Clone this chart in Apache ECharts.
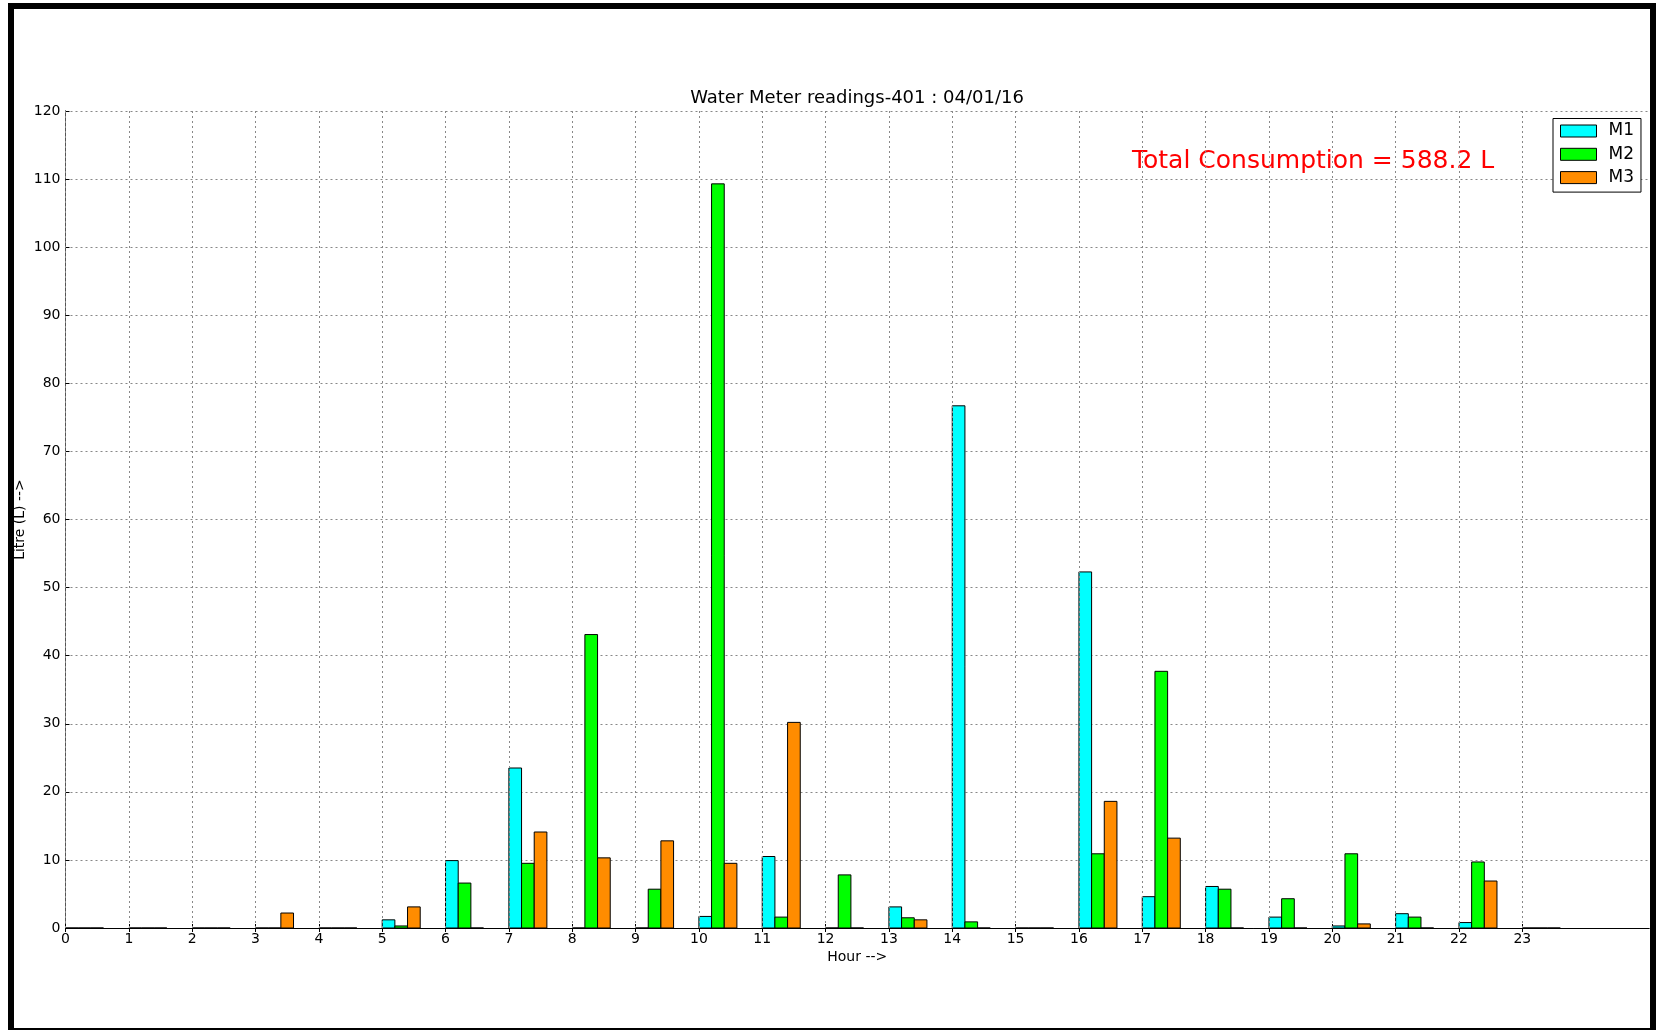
<!DOCTYPE html>
<html>
<head>
<meta charset="utf-8">
<title>Water Meter readings-401</title>
<script src="https://cdn.jsdelivr.net/npm/echarts@6/dist/echarts.min.js"></script>
<style>
    html, body { margin: 0; padding: 0; background: #fff; }
    #chart { width: 1659px; height: 1030px; }
</style>
</head>
<body>
<div id="chart"></div>
<script>
// hourly readings, litres
var hours = [0,1,2,3,4,5,6,7,8,9,10,11,12,13,14,15,16,17,18,19,20,21,22,23];
var m1 = [0,0,0,0,0,1.2,9.9,23.5,0,0,1.7,10.5,0,3.1,76.7,0,52.3,4.6,6.1,1.6,0.3,2.1,0.8,0];
var m2 = [0,0,0,0,0,0.3,6.6,9.5,43.1,5.7,109.3,1.6,7.8,1.5,0.9,0,10.9,37.7,5.7,4.3,10.9,1.6,9.7,0];
var m3 = [0,0,0,2.2,0,3.1,0,14.1,10.3,12.8,9.5,30.2,0,1.2,0,0,18.6,13.2,0,0,0.6,0,6.9,0];
var meterNames = ["M1", "M2", "M3"];
var meterColors = ["#00ffff", "#00ff00", "#ff8c00"];
var totalText = "Total Consumption = 588.2 L";

var barW = 0.2;
var font = "DejaVu Sans";
var gridDash = [2, 3];

function makeRender(k) {
    return function (params, api) {
        var x = api.value(0);
        var top = api.coord([x + k * barW, api.value(1)]);
        var bot = api.coord([x + (k + 1) * barW, 0]);
        return {
            type: "rect",
            shape: { x: top[0], y: top[1], width: bot[0] - top[0], height: bot[1] - top[1] },
            style: { fill: meterColors[k], stroke: "#000", lineWidth: 1 }
        };
    };
}

function meterSeries(k, vals) {
    var d = [];
    for (var i in hours) {
        d.push([hours[i], vals[i]]);
    }
    return {
        name: meterNames[k],
        type: "custom",
        renderItem: makeRender(k),
        encode: { x: 0, y: 1 },
        itemStyle: { color: meterColors[k], borderColor: "#000", borderWidth: 1 },
        data: d,
        z: 3
    };
}

var gridLines = [];
for (var i in hours) {
    gridLines.push({ xAxis: hours[i] });
}

var chart = echarts.init(document.getElementById("chart"));
var option = {
    animation: false,
    backgroundColor: "#fff",
    textStyle: { fontFamily: font, color: "#000" },
    title: {
        text: "Water Meter readings-401 : 04/01/16",
        left: 857,
        top: 89,
        textAlign: "center",
        padding: 0,
        textStyle: { fontFamily: font, fontSize: 18, fontWeight: "normal", color: "#000" }
    },
    grid: { left: 65.5, right: 10, top: 111, bottom: 102, containLabel: false },
    legend: {
        data: meterNames,
        orient: "vertical",
        left: 1553,
        top: 118.5,
        icon: "rect",
        itemWidth: 36,
        itemHeight: 12,
        itemGap: 5.3,
        padding: [3.5, 7, 5.5, 7],
        borderColor: "#000",
        borderWidth: 1,
        backgroundColor: "#fff",
        itemStyle: { borderColor: "#000", borderWidth: 1 },
        textStyle: { fontFamily: font, fontSize: 17, color: "#000", lineHeight: 18, padding: [0, 0, 0, 7] }
    },
    xAxis: [{
        type: "value",
        min: 0,
        max: 25,
        interval: 1,
        name: "Hour -->",
        nameLocation: "middle",
        nameGap: 22,
        nameMoveOverlap: false,
        nameTextStyle: { fontFamily: font, fontSize: 14, color: "#000" },
        axisLine: { show: true, lineStyle: { color: "#000", width: 1 } },
        axisTick: { show: true, inside: true, length: 4, lineStyle: { color: "#000" }, customValues: hours },
        axisLabel: { fontFamily: font, fontSize: 14, color: "#000", margin: 4, customValues: hours },
        splitLine: { show: false }
    }, {
        type: "value",
        position: "top",
        min: 0,
        max: 25,
        interval: 1,
        axisLine: { show: true, lineStyle: { color: "#000", width: 1 } },
        axisTick: { show: true, inside: true, length: 4, lineStyle: { color: "#000" }, customValues: hours },
        axisLabel: { show: false },
        splitLine: { show: false }
    }],
    yAxis: [{
        type: "value",
        min: 0,
        max: 120,
        interval: 10,
        name: "Litre (L) -->",
        nameLocation: "middle",
        nameGap: 38,
        nameMoveOverlap: false,
        nameTextStyle: { fontFamily: font, fontSize: 14, color: "#000" },
        axisLine: { show: true, lineStyle: { color: "#000", width: 1 } },
        axisTick: { show: true, inside: true, length: 4, lineStyle: { color: "#000" } },
        axisLabel: { fontFamily: font, fontSize: 14, color: "#000", margin: 5 },
        splitLine: { show: true, lineStyle: { type: gridDash, color: "#888", width: 1 } }
    }, {
        type: "value",
        position: "right",
        min: 0,
        max: 120,
        interval: 10,
        axisLine: { show: true, lineStyle: { color: "#555", width: 1 } },
        axisTick: { show: false },
        axisLabel: { show: false },
        splitLine: { show: false }
    }],
    series: [
        meterSeries(0, m1),
        meterSeries(1, m2),
        meterSeries(2, m3),
        {
            // vertical dotted grid only at the labelled hours
            name: "grid",
            type: "line",
            data: [],
            silent: true,
            markLine: {
                silent: true,
                symbol: "none",
                animation: false,
                label: { show: false },
                lineStyle: { type: gridDash, color: "#888", width: 1 },
                data: gridLines
            },
            z: 1
        }
    ],
    graphic: [
        {
            type: "text",
            left: 1132,
            top: 149,
            style: { text: totalText, fill: "#ff0000", font: "25px 'DejaVu Sans'" }
        },
        {
            type: "rect",
            shape: { x: 11, y: 6, width: 1642, height: 1025 },
            style: { fill: "none", stroke: "#000", lineWidth: 6 },
            z: 100
        }
    ]
};
chart.setOption(option);
</script>
</body>
</html>
